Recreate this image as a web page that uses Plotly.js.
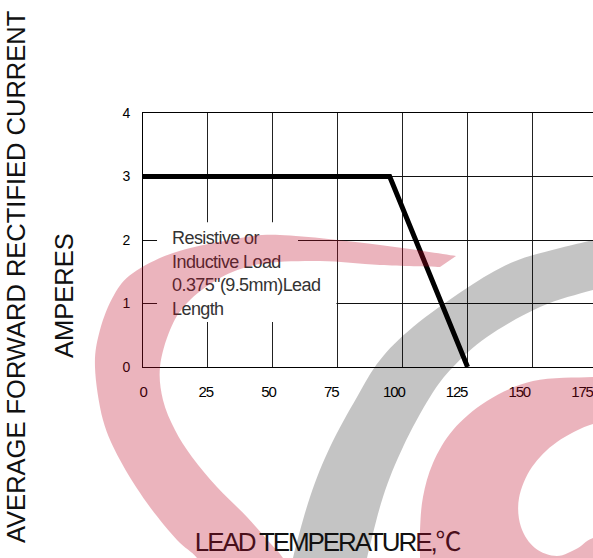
<!DOCTYPE html>
<html>
<head>
<meta charset="utf-8">
<script src="https://cdn.plot.ly/plotly-3.0.1.min.js"></script>
<style>
  html, body { margin: 0; padding: 0; background: #fff; }
  #chart { width: 593px; height: 558px; }
  .textpoint text { letter-spacing: -0.6px; }
  .x2tick text { letter-spacing: -1.2px; }
  .annotation[data-index="2"] text { letter-spacing: -2.1px; }
  .shapelayer path { fill-rule: evenodd; }
</style>
</head>
<body>
<div id="chart"></div>
<script>
// ---- data ----
const xTickVals = [0, 25, 50, 75, 100, 125, 150, 175];
const xTickText = ['0', '25', '50', '75', '100', '125', '150', '175'];
const yTickVals = [0, 1, 2, 3, 4];
const yTickText = ['0', '1', '2', '3', '4'];
const leadTempC = [0, 95, 125];
const currentA = [3, 3, 0];
const noteLines = ['Resistive or', 'Inductive Load', '0.375"(9.5mm)Lead', 'Length'];
const xTitleParts = ['LEAD', ' TEMPERATU', 'R', 'E,', '℃'];
const yTitleLines = ['AVERAGE FORWARD RECTIFIED CURRENT', 'AMPERES'];

// ---- layout geometry (pixels) ----
const W = 593, H = 558, L = 143, T = 113, B = 191, R = 0;
const PW = W - L - R, PH = H - T - B;
const PX = x => ((x - L) / PW);
const PY = y => (1 - (y - T) / PH);
const fmt = v => v.toFixed(4);

function crSegs(pts) {
  let d = '';
  for (let i = 0; i < pts.length - 1; i++) {
    const p0 = pts[i - 1] || pts[i], p1 = pts[i], p2 = pts[i + 1], p3 = pts[i + 2] || pts[i + 1];
    const c1 = [p1[0] + (p2[0] - p0[0]) / 6, p1[1] + (p2[1] - p0[1]) / 6];
    const c2 = [p2[0] - (p3[0] - p1[0]) / 6, p2[1] - (p3[1] - p1[1]) / 6];
    d += ` C ${fmt(PX(c1[0]))},${fmt(PY(c1[1]))} ${fmt(PX(c2[0]))},${fmt(PY(c2[1]))} ${fmt(PX(p2[0]))},${fmt(PY(p2[1]))}`;
  }
  return d;
}
function bandPath(a, b) {
  return `M ${fmt(PX(a[0][0]))},${fmt(PY(a[0][1]))}` + crSegs(a) +
         ` L ${fmt(PX(b[0][0]))},${fmt(PY(b[0][1]))}` + crSegs(b) + ' Z';
}
function closedOpen(a, extra) {
  let d = `M ${fmt(PX(a[0][0]))},${fmt(PY(a[0][1]))}` + crSegs(a);
  extra.forEach(p => { d += ` L ${fmt(PX(p[0]))},${fmt(PY(p[1]))}`; });
  return d + ' Z';
}

// watermark outlines (decorative background logo, pixel coords)
const pinkOuter = [[212,585],[197,558],[177,540],[147,503],[120,460],[103,420],[95,367],[100,330],[114,295],[133,273],[173,253],[230,240],[280,235],[380,245],[456,256]];
const pinkInner = [[440,267],[380,265],[320,261],[260,264],[220,278],[187,303],[170,330],[160,367],[163,400],[175,430],[192,457],[217,487],[247,517],[270,543],[283,558],[297,585]];
const grayOuter = [[630,230],[593,240],[560,248],[513,262],[467,288],[413,327],[380,360],[357,397],[330,447],[310,497],[293,558],[289,585]];
const grayInner = [[361,585],[367,558],[383,497],[403,447],[430,397],[453,367],[487,337],[540,307],[593,290],[630,282]];
const pinkROuter = [[630,376],[593,377],[533,381],[487,401],[453,430],[433,463],[423,497],[420,530],[420,558],[420,590]];
const pinkRBottom = [[630,590]];
const pinkRHole = [[630,420],[593,424],[557,442],[532,467],[519,498],[521,527],[535,548],[557,556],[578,548],[593,538],[630,530]];
const pinkRPath = closedOpen(pinkROuter, pinkRBottom) + ' ' + closedOpen(pinkRHole, []);

const traces = [
  {
    x: leadTempC, y: currentA, type: 'scatter', mode: 'lines',
    line: { color: '#000', width: 5 }, hoverinfo: 'skip', showlegend: false, cliponaxis: false
  },
  {
    x: [11.2], y: [1.45], type: 'scatter', mode: 'text',
    text: [noteLines.join('<br>')], textposition: 'middle right',
    textfont: { family: 'Liberation Sans, Arial, sans-serif', size: 18, color: '#333' },
    hoverinfo: 'skip', showlegend: false
  },
  {
    x: [xTickVals[0], xTickVals[xTickVals.length - 1]], y: [yTickVals[0], yTickVals[0]],
    xaxis: 'x2', yaxis: 'y', type: 'scatter', mode: 'markers',
    marker: { opacity: 0 }, hoverinfo: 'skip', showlegend: false
  }
];

const sans = 'Liberation Sans, Arial, sans-serif';
const xTitleColors = ['#4a0f1b', '#111', '#111', '#4a0f1b', '#4a0f1b'];
const xTitleHtml = xTitleParts.map((t, i) => {
  const fam = t === '℃' ? 'font-family:Noto Sans CJK SC;letter-spacing:0;' : '';
  return `<span style="color:${xTitleColors[i]};${fam}">${t}</span>`;
}).join('');

const layout = {
  width: W, height: H,
  margin: { l: L, r: R, t: T, b: B, pad: 0 },
  paper_bgcolor: '#fff', plot_bgcolor: '#fff',
  showlegend: false,
  xaxis: {
    range: [0, 173.3], tickvals: xTickVals, showticklabels: false,
    showgrid: true, gridcolor: '#222', gridwidth: 1,
    showline: true, linecolor: '#000', linewidth: 1, mirror: true,
    zeroline: false, ticks: '', fixedrange: true
  },
  xaxis2: {
    overlaying: 'x', anchor: 'y', side: 'bottom',
    range: [0, 179.4], tickvals: xTickVals, ticktext: xTickText,
    showgrid: false, showline: false, zeroline: false,
    ticks: 'outside', ticklen: 11, tickcolor: 'rgba(0,0,0,0)',
    ticklabeloverflow: 'allow',
    tickfont: { family: sans, size: 15, color: '#000' }, fixedrange: true
  },
  yaxis: {
    range: [0, 4], tickvals: yTickVals, ticktext: yTickText,
    showgrid: true, gridcolor: '#111', gridwidth: 1,
    showline: true, linecolor: '#000', linewidth: 1, mirror: false,
    zeroline: false, ticks: 'outside', ticklen: 9, tickcolor: 'rgba(0,0,0,0)',
    tickfont: { family: sans, size: 14, color: '#000' }, fixedrange: true
  },
  shapes: [
    { type: 'rect', layer: 'between', xref: 'x', yref: 'y', x0: 5.4, x1: 59.7, y0: 0.71, y1: 2.28,
      fillcolor: '#fff', line: { width: 0 } },
    { type: 'rect', layer: 'between', xref: 'x', yref: 'y', x0: 59.0, x1: 74.5, y0: 0.75, y1: 1.5,
      fillcolor: '#fff', line: { width: 0 } },
    { type: 'path', layer: 'above', xref: 'paper', yref: 'paper', path: bandPath(pinkOuter, pinkInner),
      fillcolor: 'rgb(188,8,38)', opacity: 0.3, line: { width: 0 } },
    { type: 'path', layer: 'above', xref: 'paper', yref: 'paper', path: bandPath(grayOuter, grayInner),
      fillcolor: 'rgb(0,0,0)', opacity: 0.23, line: { width: 0 } },
    { type: 'path', layer: 'above', xref: 'paper', yref: 'paper', path: pinkRPath,
      fillcolor: 'rgb(188,8,38)', opacity: 0.3, line: { width: 0 } }
  ],
  annotations: [
    { xref: 'paper', yref: 'paper', x: PX(16), y: PY(277), text: yTitleLines[0], textangle: -90,
      showarrow: false, xanchor: 'center', yanchor: 'middle',
      font: { family: sans, size: 25.5, color: '#111' } },
    { xref: 'paper', yref: 'paper', x: PX(64), y: PY(296), text: yTitleLines[1], textangle: -90,
      showarrow: false, xanchor: 'center', yanchor: 'middle',
      font: { family: sans, size: 25.5, color: '#111' } },
    { xref: 'paper', yref: 'paper', x: PX(328), y: PY(539), text: xTitleHtml,
      showarrow: false, xanchor: 'center', yanchor: 'middle',
      font: { family: sans, size: 26, color: '#111' } }
  ]
};

Plotly.newPlot('chart', traces, layout, { displayModeBar: false, staticPlot: true });
</script>
</body>
</html>
